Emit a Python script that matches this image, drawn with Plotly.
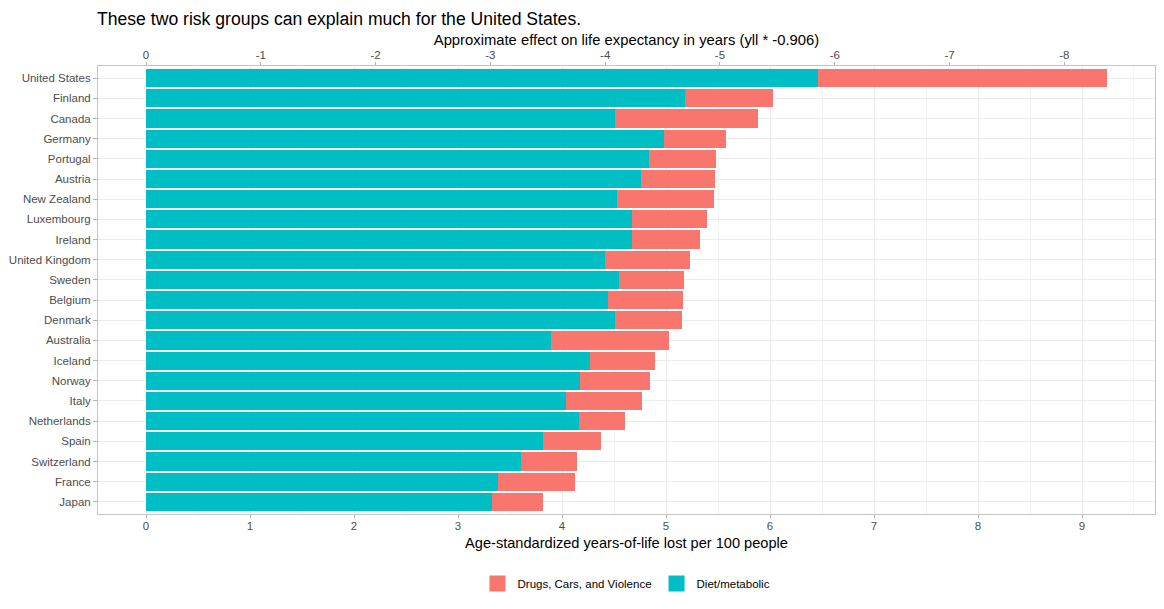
import plotly.graph_objects as go

# Country rows, top to bottom
countries = ["United States", "Finland", "Canada", "Germany", "Portugal", "Austria",
             "New Zealand", "Luxembourg", "Ireland", "United Kingdom", "Sweden",
             "Belgium", "Denmark", "Australia", "Iceland", "Norway", "Italy",
             "Netherlands", "Spain", "Switzerland", "France", "Japan"]

# Age-standardized YLL per 100 people, by risk group
diet_metabolic = [6.46, 5.18, 4.51, 4.98, 4.84, 4.76, 4.53, 4.67, 4.67, 4.41, 4.55,
                  4.44, 4.51, 3.89, 4.27, 4.17, 4.04, 4.16, 3.82, 3.61, 3.38, 3.33]
drugs_cars_violence = [2.78, 0.85, 1.37, 0.60, 0.64, 0.71, 0.93, 0.72, 0.66, 0.82, 0.62,
                       0.72, 0.64, 1.14, 0.62, 0.68, 0.73, 0.45, 0.55, 0.53, 0.74, 0.49]

LE_FACTOR = -0.906

# top axis ticks (life expectancy effect), written with plain hyphens like ggplot
top_tick_vals = [0, -1, -2, -3, -4, -5, -6, -7, -8]
top_tick_text = ["0", "-1", "-2", "-3", "-4", "-5", "-6", "-7", "-8"]

totals = [a + b for a, b in zip(diet_metabolic, drugs_cars_violence)]
xmax = max(totals)
x_range = [-0.05 * xmax, 1.05 * xmax]
n = len(countries)
y_range = [n - 1 + 0.6, -0.6]   # reversed, ggplot discrete expansion

TEAL = "#00BFC4"
SALMON = "#F8766D"
FONT = "Liberation Sans, Arial, sans-serif"

# the page body keeps its default 8px margin, so the figure is 16px smaller
W, H = 1148, 593

fig = go.Figure()

fig.add_trace(go.Bar(
    y=countries, x=diet_metabolic, orientation="h",
    marker=dict(color=TEAL, line=dict(width=0)),
    name="Diet/metabolic", showlegend=False
))
fig.add_trace(go.Bar(
    y=countries, x=drugs_cars_violence, orientation="h",
    marker=dict(color=SALMON, line=dict(width=0)),
    name="Drugs, Cars, and Violence", showlegend=False
))

# invisible trace so the secondary (top) axis is drawn
fig.add_trace(go.Scatter(
    y=countries, x=[t * LE_FACTOR for t in totals], xaxis="x2",
    mode="markers", marker=dict(opacity=0), showlegend=False, hoverinfo="skip"
))

# legend keys (ggplot-like squares)
fig.add_trace(go.Scatter(
    x=[None], y=[None], mode="markers", name="Drugs, Cars, and Violence",
    marker=dict(symbol="square", size=22, color=SALMON)
))
fig.add_trace(go.Scatter(
    x=[None], y=[None], mode="markers", name="Diet/metabolic",
    marker=dict(symbol="square", size=22, color=TEAL)
))

fig.update_layout(
    width=W, height=H,
    barmode="stack", bargap=0.1,
    plot_bgcolor="white", paper_bgcolor="white",
    font=dict(family=FONT, color="#4d4d4d", size=11.5),
    margin=dict(l=90, r=1, t=58, b=87),
    title=dict(
        text="These two risk groups can explain much for the United States.",
        font=dict(size=17.6, color="black"),
        x=89 / W, xanchor="left", xref="container",
        y=1 - 11 / H, yanchor="middle", yref="container"
    ),
    xaxis=dict(
        range=x_range, dtick=1, tick0=0, automargin=False,
        showgrid=True, gridcolor="#ebebeb", gridwidth=1,
        minor=dict(dtick=0.5, showgrid=True, gridcolor="#f4f4f4", gridwidth=0.6),
        zeroline=False,
        showline=True, linecolor="#c4c4c4", linewidth=1, mirror=True,
        ticks="outside", ticklen=3, tickcolor="#b3b3b3", ticklabelstandoff=-2,
        tickfont=dict(size=11.5, color="#4d4d4d"),
        title=dict(text="Age-standardized years-of-life lost per 100 people",
                   font=dict(size=14.6, color="black"), standoff=6)
    ),
    xaxis2=dict(
        overlaying="x", side="top", anchor="y", automargin=False,
        range=[x_range[0] * LE_FACTOR, x_range[1] * LE_FACTOR],
        tickvals=top_tick_vals, ticktext=top_tick_text,
        showgrid=False, zeroline=False,
        ticks="outside", ticklen=3, tickcolor="#b3b3b3", ticklabelstandoff=-2,
        tickfont=dict(size=11.5, color="#4d4d4d"),
        title=dict(text="Approximate effect on life expectancy in years (yll * -0.906)",
                   font=dict(size=14.8, color="black"), standoff=0)
    ),
    yaxis=dict(
        range=y_range, type="category", automargin=False,
        showgrid=True, gridcolor="#ebebeb", gridwidth=1,
        showline=True, linecolor="#c4c4c4", linewidth=1, mirror=True,
        ticks="outside", ticklen=4, tickcolor="#b3b3b3",
        tickfont=dict(size=11.5, color="#4d4d4d")
    ),
    legend=dict(
        orientation="h", x=0.5, xanchor="center", y=-0.155, yanchor="middle",
        font=dict(size=11.5, color="black"), itemsizing="trace",
        traceorder="normal"
    )
)

fig.write_html("out.html")
